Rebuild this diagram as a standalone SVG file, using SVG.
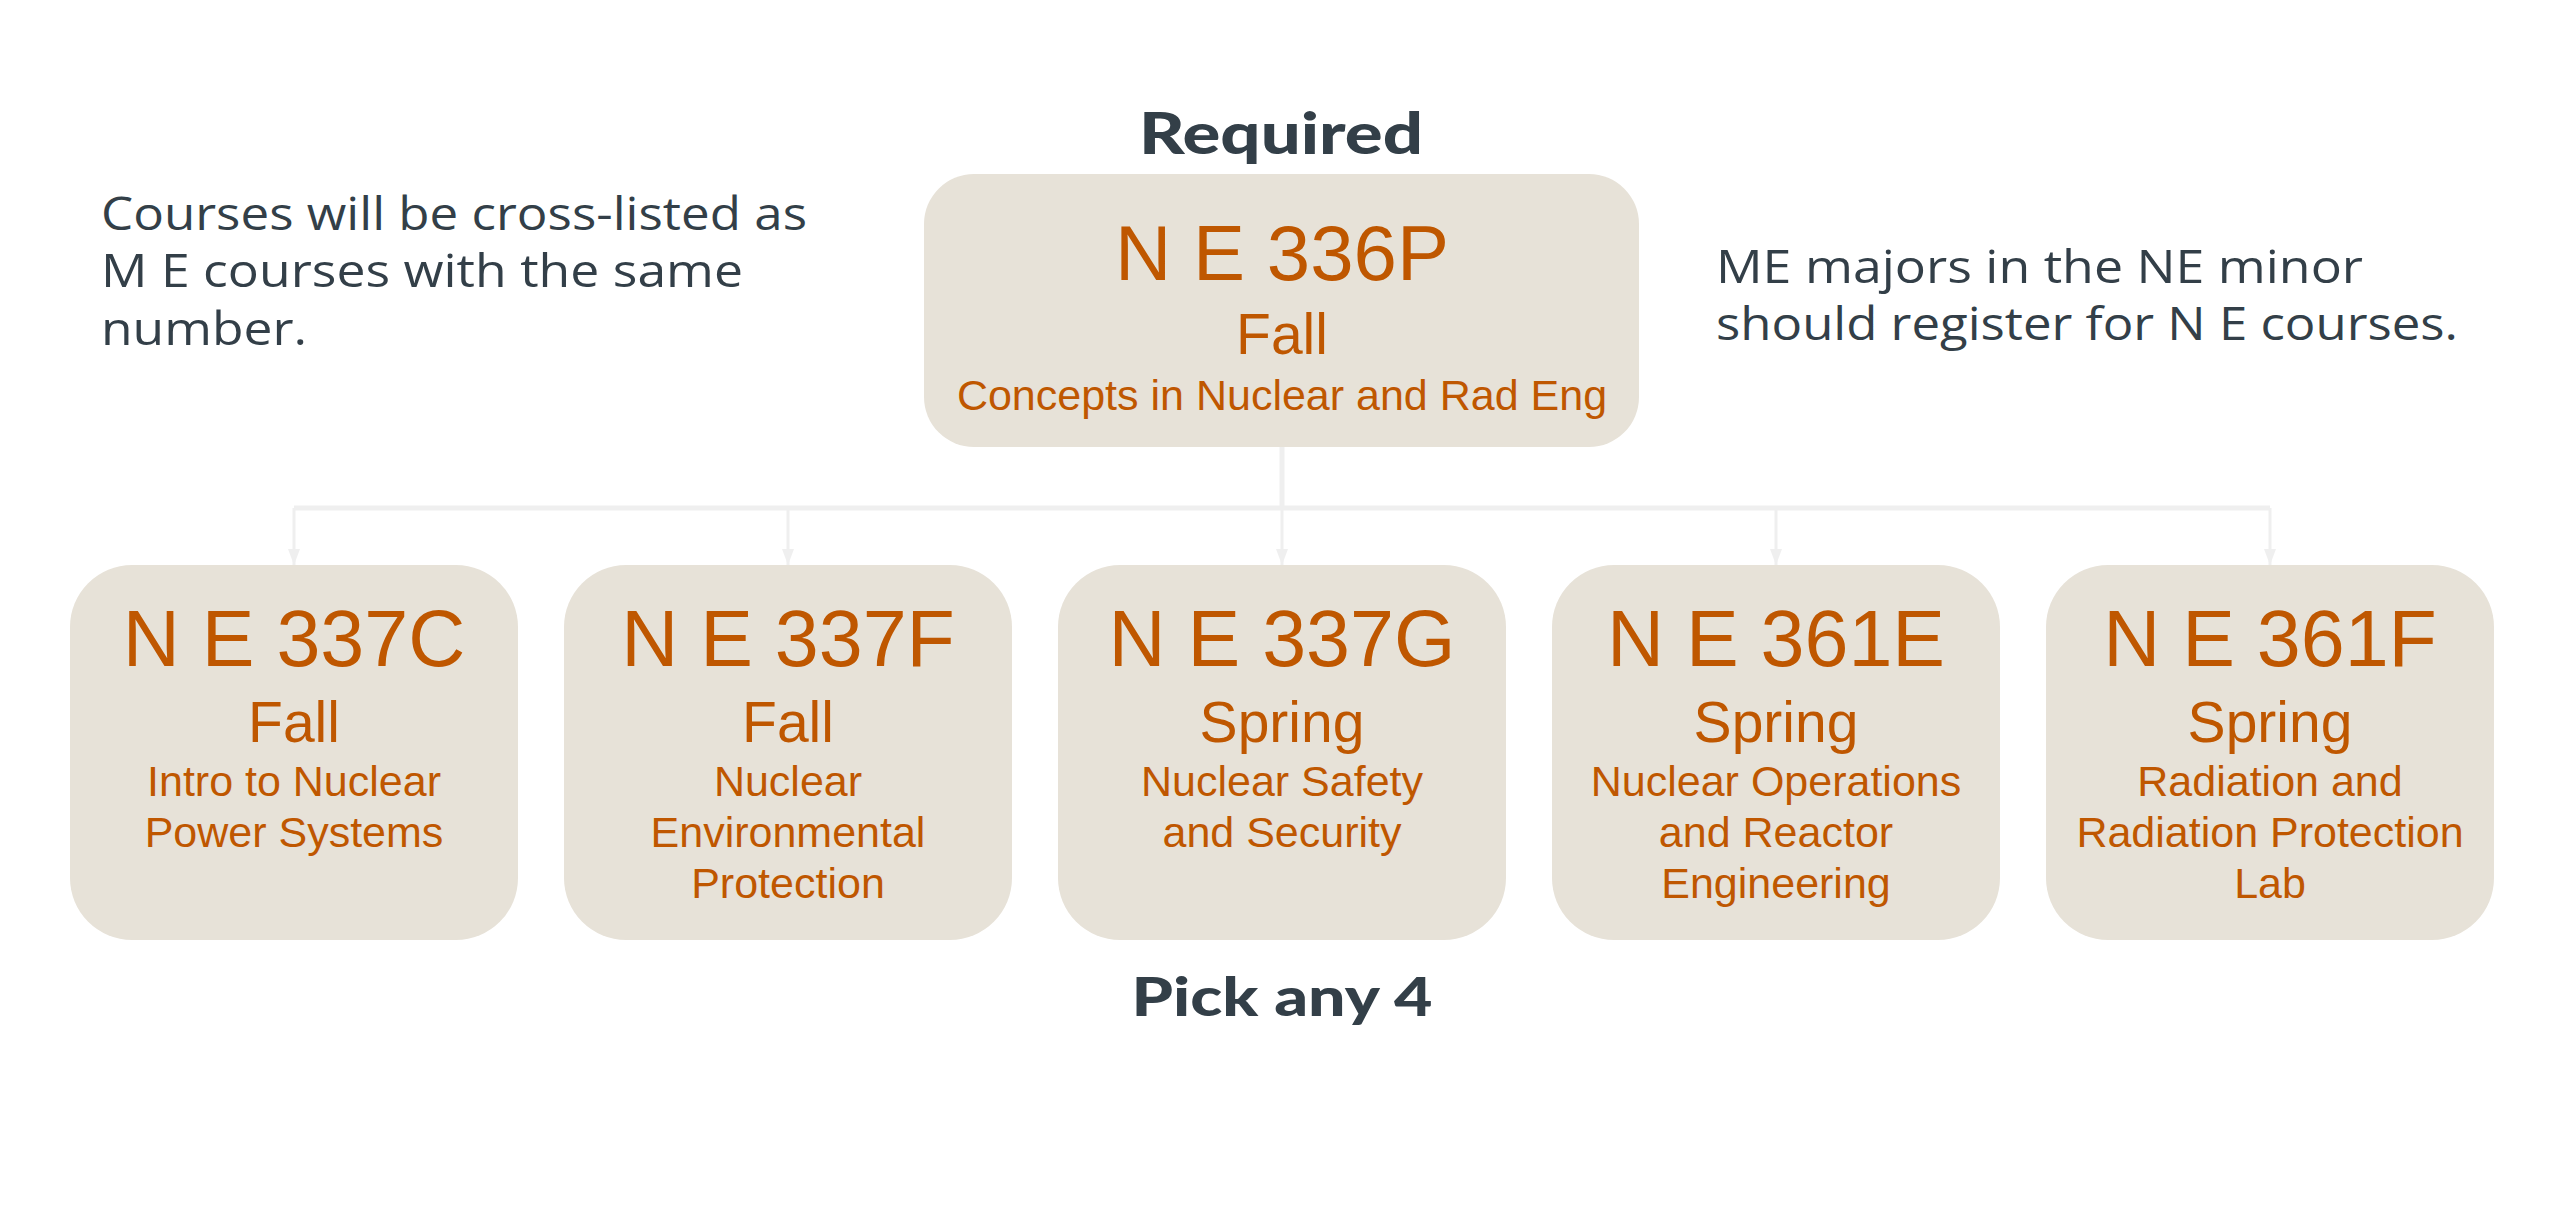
<svg xmlns="http://www.w3.org/2000/svg" width="2560" height="1213" viewBox="0 0 2560 1213">
<style>
.box{fill:#E7E2D8}
.code{font-family:"Liberation Sans",Arial,sans-serif;font-size:79px;fill:#BF5700;text-anchor:middle}
.sea{font-family:"Liberation Sans",Arial,sans-serif;font-size:57px;fill:#BF5700;text-anchor:middle}
.desc{font-family:"Liberation Sans",Arial,sans-serif;font-size:43px;fill:#BF5700;text-anchor:middle}
.head{font-family:Lato,"Noto Sans",sans-serif;font-weight:900;font-size:58px;fill:#333F48;text-anchor:middle}
.note{font-family:"Open Sans","Noto Sans",sans-serif;font-weight:400;font-size:45px;fill:#333F48}
.conn{stroke:#EFEFEF;fill:none}
</style>
<defs>
<marker id="arr" viewBox="0 0 16 12" refX="16" refY="6" markerWidth="16" markerHeight="12" markerUnits="userSpaceOnUse" orient="auto">
<path d="M0,0 L16,6 L0,12 Z" fill="#EFEFEF"/>
</marker>
</defs>
<rect width="2560" height="1213" fill="#FFFFFF"/>
<g id="connectors">
<path class="conn" stroke-width="5" d="M1282,447 V508 M294,508 H2270"/>
<path class="conn" stroke-width="3" d="M294,508 V565" marker-end="url(#arr)"/>
<path class="conn" stroke-width="3" d="M788,508 V565" marker-end="url(#arr)"/>
<path class="conn" stroke-width="3" d="M1282,508 V565" marker-end="url(#arr)"/>
<path class="conn" stroke-width="3" d="M1776,508 V565" marker-end="url(#arr)"/>
<path class="conn" stroke-width="3" d="M2270,508 V565" marker-end="url(#arr)"/>
</g>
<g id="label-required"><text class="head" x="1281" y="154" textLength="284" lengthAdjust="spacingAndGlyphs">Required</text></g>
<g id="label-pick"><text class="head" x="1282" y="1016" style="font-size:53px" textLength="301" lengthAdjust="spacingAndGlyphs">Pick any 4</text></g>
<g id="note-left">
<text class="note" x="101" y="230" textLength="706" lengthAdjust="spacingAndGlyphs">Courses will be cross-listed as</text>
<text class="note" x="101" y="287" textLength="642" lengthAdjust="spacingAndGlyphs">M E courses with the same</text>
<text class="note" x="101" y="345" textLength="206" lengthAdjust="spacingAndGlyphs">number.</text>
</g>
<g id="note-right">
<text class="note" x="1716" y="283" textLength="647" lengthAdjust="spacingAndGlyphs">ME majors in the NE minor</text>
<text class="note" x="1716" y="340" textLength="742" lengthAdjust="spacingAndGlyphs">should register for N E courses.</text>
</g>
<g id="ne336p">
<rect class="box" x="924" y="174" width="715" height="273" rx="50"/>
<text class="code" x="1282" y="280" style="font-size:78px">N E 336P</text>
<text class="sea" x="1282" y="354">Fall</text>
<text class="desc" x="1282" y="410">Concepts in Nuclear and Rad Eng</text>
</g>
<g id="ne337c">
<rect class="box" x="70" y="565" width="448" height="375" rx="62"/>
<text class="code" x="294" y="666">N E 337C</text>
<text class="sea" x="294" y="742">Fall</text>
<text class="desc" x="294" y="796">Intro to Nuclear</text>
<text class="desc" x="294" y="847">Power Systems</text>
</g>
<g id="ne337f">
<rect class="box" x="564" y="565" width="448" height="375" rx="62"/>
<text class="code" x="788" y="666">N E 337F</text>
<text class="sea" x="788" y="742">Fall</text>
<text class="desc" x="788" y="796">Nuclear</text>
<text class="desc" x="788" y="847">Environmental</text>
<text class="desc" x="788" y="898">Protection</text>
</g>
<g id="ne337g">
<rect class="box" x="1058" y="565" width="448" height="375" rx="62"/>
<text class="code" x="1282" y="666">N E 337G</text>
<text class="sea" x="1282" y="742">Spring</text>
<text class="desc" x="1282" y="796">Nuclear Safety</text>
<text class="desc" x="1282" y="847">and Security</text>
</g>
<g id="ne361e">
<rect class="box" x="1552" y="565" width="448" height="375" rx="62"/>
<text class="code" x="1776" y="666">N E 361E</text>
<text class="sea" x="1776" y="742">Spring</text>
<text class="desc" x="1776" y="796">Nuclear Operations</text>
<text class="desc" x="1776" y="847">and Reactor</text>
<text class="desc" x="1776" y="898">Engineering</text>
</g>
<g id="ne361f">
<rect class="box" x="2046" y="565" width="448" height="375" rx="62"/>
<text class="code" x="2270" y="666">N E 361F</text>
<text class="sea" x="2270" y="742">Spring</text>
<text class="desc" x="2270" y="796">Radiation and</text>
<text class="desc" x="2270" y="847">Radiation Protection</text>
<text class="desc" x="2270" y="898">Lab</text>
</g>
</svg>
